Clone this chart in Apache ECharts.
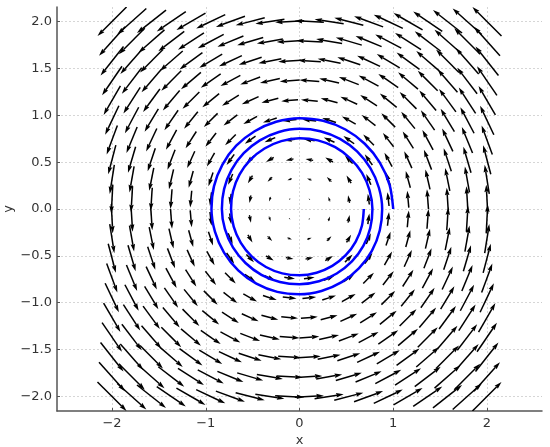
<!DOCTYPE html>
<html>
<head>
<meta charset="utf-8">
<script src="https://cdn.jsdelivr.net/npm/echarts@6/dist/echarts.min.js"></script>
<style>
  html, body { margin: 0; padding: 0; background: #fff; }
  #chart { width: 550px; height: 447px; }
</style>
</head>
<body>
<div id="chart"></div>
<script>
// grid points of the vector field (same along x and y)
const gridX = [-2, -1.789, -1.579, -1.368, -1.158, -0.947, -0.737, -0.526, -0.316, -0.105,
  0.105, 0.316, 0.526, 0.737, 0.947, 1.158, 1.368, 1.579, 1.789, 2];
const gridY = [-2, -1.789, -1.579, -1.368, -1.158, -0.947, -0.737, -0.526, -0.316, -0.105,
  0.105, 0.316, 0.526, 0.737, 0.947, 1.158, 1.368, 1.579, 1.789, 2];
// horizontal component, one value per row (bottom to top)
const uByRow = [2, 1.789, 1.579, 1.368, 1.158, 0.947, 0.737, 0.526, 0.316, 0.105,
  -0.105, -0.316, -0.526, -0.737, -0.947, -1.158, -1.368, -1.579, -1.789, -2];
// vertical component, one value per column (left to right)
const vByCol = [-2, -1.789, -1.579, -1.368, -1.158, -0.947, -0.737, -0.526, -0.316, -0.105,
  0.105, 0.316, 0.526, 0.737, 0.947, 1.158, 1.368, 1.579, 1.789, 2];

// blue spiral path
const spiral = [
  [1.000, 0.000], [0.961, 0.257], [0.857, 0.495], [0.696, 0.696], [0.490, 0.848], [0.252, 0.941],
  [0.000, 0.969], [-0.249, 0.931], [-0.479, 0.830], [-0.675, 0.675], [-0.822, 0.474], [-0.912, 0.244],
  [-0.939, 0.000], [-0.902, -0.242], [-0.805, -0.465], [-0.654, -0.654], [-0.460, -0.796], [-0.237, -0.884],
  [0.000, -0.910], [0.234, -0.874], [0.450, -0.780], [0.633, -0.633], [0.772, -0.446], [0.856, -0.229],
  [0.882, 0.000], [0.847, 0.227], [0.756, 0.436], [0.614, 0.614], [0.432, 0.748], [0.222, 0.830],
  [0.000, 0.855], [-0.220, 0.821], [-0.423, 0.732], [-0.595, 0.595], [-0.725, 0.418], [-0.804, 0.215],
  [-0.828, 0.000], [-0.796, -0.213], [-0.710, -0.410], [-0.576, -0.576], [-0.406, -0.702], [-0.209, -0.779],
  [0.000, -0.803], [0.207, -0.771], [0.397, -0.688], [0.559, -0.559], [0.681, -0.393], [0.755, -0.202],
  [0.778, 0.000], [0.747, 0.200], [0.667, 0.385], [0.541, 0.541], [0.381, 0.660], [0.196, 0.732],
  [0.000, 0.754], [-0.194, 0.724], [-0.373, 0.646], [-0.525, 0.525], [-0.639, 0.369], [-0.709, 0.190],
  [-0.730, 0.000], [-0.702, -0.188], [-0.626, -0.361], [-0.508, -0.508], [-0.358, -0.619], [-0.184, -0.687],
  [0.000, -0.708], [0.182, -0.680], [0.350, -0.607], [0.493, -0.493], [0.600, -0.347], [0.666, -0.178],
  [0.686, 0.000]
];

const xTicks = [-2, -1, 0, 1, 2];
const yTicks = [-2, -1.5, -1, -0.5, 0, 0.5, 1, 1.5, 2];

const arrows = [];
gridY.forEach((y, j) => {
  gridX.forEach((x, i) => {
    arrows.push([x, y, uByRow[j], vByCol[i]]);
  });
});

const arrowScale = 0.155; // data units per unit of field
const shaftW = 1.5;

function renderArrow(params, api) {
  const x = api.value(0), y = api.value(1), u = api.value(2), v = api.value(3);
  const h = arrowScale / 2;
  const p0 = api.coord([x - h * u, y - h * v]);
  const p1 = api.coord([x + h * u, y + h * v]);
  const dx = p1[0] - p0[0], dy = p1[1] - p0[1];
  const len = Math.sqrt(dx * dx + dy * dy);
  if (len < 0.01) return;
  const ux = dx / len, uy = dy / len;
  const nx = -uy, ny = ux;
  let w = shaftW, hl = 5 * shaftW, hal = 4.5 * shaftW, hw = 1.5 * shaftW;
  if (len < hl * 1.2) {
    const f = len / (hl * 1.2);
    w *= f; hl *= f; hal *= f; hw *= f;
  }
  const bx = p1[0] - ux * hal, by = p1[1] - uy * hal;
  const cx = p1[0] - ux * hl, cy = p1[1] - uy * hl;
  return {
    type: 'group',
    children: [
      {
        type: 'line',
        shape: { x1: p0[0], y1: p0[1], x2: bx, y2: by },
        style: { stroke: '#000', lineWidth: w }
      },
      {
        type: 'polygon',
        shape: {
          points: [
            [p1[0], p1[1]],
            [cx + nx * hw, cy + ny * hw],
            [bx, by],
            [cx - nx * hw, cy - ny * hw]
          ]
        },
        style: { fill: '#000' }
      }
    ]
  };
}

const fmt = (d) => (v) => Number(v).toFixed(d).replace('-', '\u2212');

const chart = echarts.init(document.getElementById('chart'));
chart.setOption({
  backgroundColor: '#fff',
  animation: false,
  textStyle: { fontFamily: 'DejaVu Sans' },
  grid: { left: 57, right: 8, top: 7, bottom: 36, containLabel: false, outerBoundsMode: 'none' },
  xAxis: {
    type: 'value',
    min: -2.587,
    max: 2.587,
    name: 'x',
    nameLocation: 'middle',
    nameGap: 23,
    nameMoveOverlap: false,
    nameTextStyle: { color: '#333', fontSize: 13 },
    axisLine: { onZero: false, lineStyle: { color: '#555', width: 1.5 } },
    axisTick: { show: true, inside: true, length: 3, customValues: xTicks, lineStyle: { color: '#555' } },
    axisLabel: { customValues: xTicks, formatter: fmt(0), color: '#333', fontSize: 13, margin: 6 },
    splitLine: { show: true, lineStyle: { color: '#ccc', type: [2, 2], width: 0.8 } }
  },
  yAxis: {
    type: 'value',
    min: -2.155,
    max: 2.155,
    name: 'y',
    nameLocation: 'middle',
    nameGap: 42,
    nameMoveOverlap: false,
    nameRotate: 90,
    nameTextStyle: { color: '#333', fontSize: 13 },
    axisLine: { onZero: false, lineStyle: { color: '#555', width: 1.5 } },
    axisTick: { show: true, inside: true, length: 3, customValues: yTicks, lineStyle: { color: '#555' } },
    axisLabel: { customValues: yTicks, formatter: fmt(1), color: '#333', fontSize: 13, margin: 5 },
    splitLine: { show: true, lineStyle: { color: '#ccc', type: [2, 2], width: 0.8 } }
  },
  series: [
    {
      type: 'custom',
      data: arrows,
      renderItem: renderArrow,
      clip: true,
      silent: true
    },
    {
      type: 'line',
      data: spiral,
      smooth: 0.3,
      showSymbol: false,
      lineStyle: { color: '#0000ff', width: 2.5 },
      silent: true
    }
  ]
});
</script>
</body>
</html>
